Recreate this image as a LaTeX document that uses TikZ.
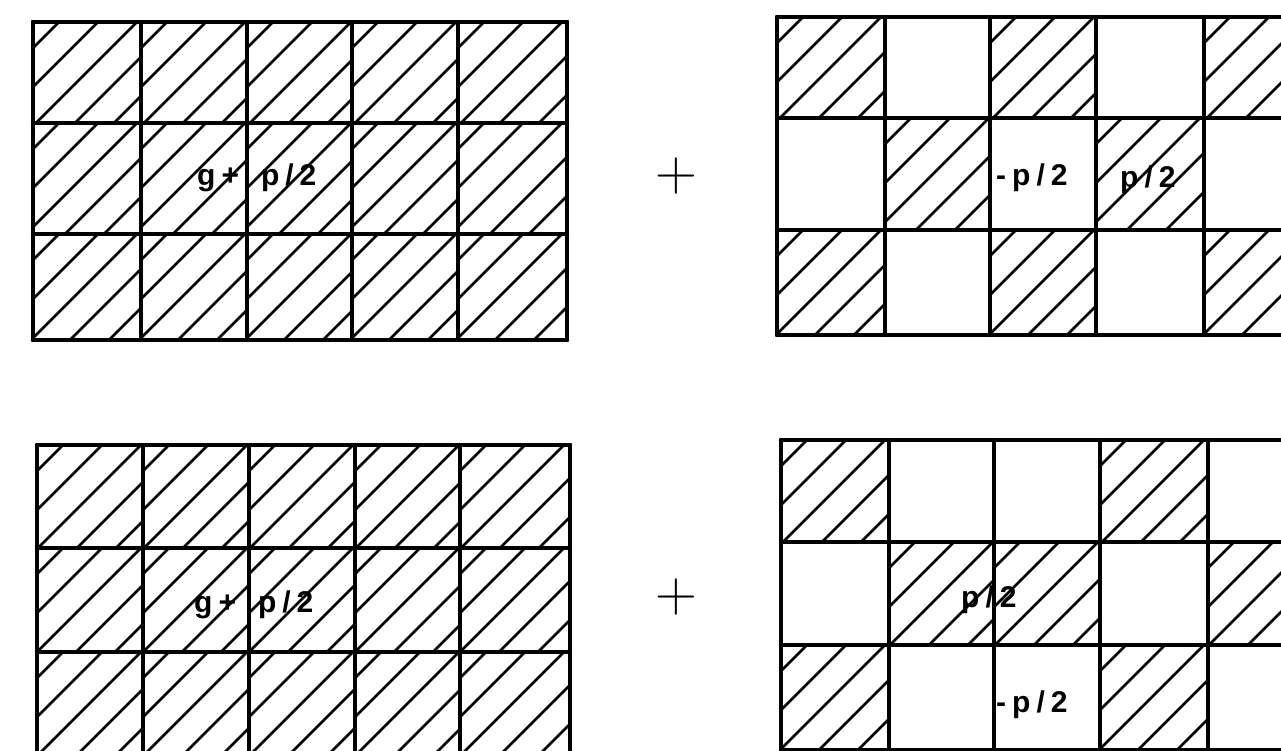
\documentclass[tikz,border=0pt]{standalone}
\usepackage{fontspec}
\newfontfamily\lblfont[LetterSpace=20]{Liberation Sans Bold}
\tikzset{
  gridline/.style={line width=4.4pt, line cap=round, line join=round},
  hatchline/.style={line width=2.6pt},
  lbl/.style={font=\lblfont\fontsize{30}{30}\selectfont, inner sep=0pt, anchor=base west},
  widelbl/.style={lbl, execute at begin node={\spaceskip=22pt}},
  plussign/.style={font=\fontsize{58}{58}\selectfont, inner sep=0pt}
}
\newcommand\hcell[4]{%
  \begin{scope}
    \clip (#1,#2) rectangle (#3,#4);
    \foreach \d in {26,65,104,143,182,221}
      \draw[hatchline] (#1+\d-300,#2+300) -- (#1+\d+300,#2-300);
  \end{scope}}
\begin{document}
\begin{tikzpicture}[x=1pt,y=-1pt]
\useasboundingbox (0,0) rectangle (1281,751);
\clip (0,0) rectangle (1281,751);
\fill[white] (0,0) rectangle (1281,751);

% ---------- top-left grid: all hatched ----------
\foreach \xa/\xb in {33/141,141/247,247/352,352/458,458/567}
  \foreach \ya/\yb in {22/123,123/234,234/340}
    \hcell{\xa}{\ya}{\xb}{\yb};
\foreach \x in {33,141,247,352,458,567} \draw[gridline] (\x,22) -- (\x,340);
\foreach \y in {22,123,234,340} \draw[gridline] (33,\y) -- (567,\y);

% ---------- top-right grid: checkerboard ----------
\foreach \xa/\xb/\ya/\yb in {777/885/17/118, 990/1096/17/118, 1204/1320/17/118,
                             885/990/118/230, 1096/1204/118/230,
                             777/885/230/335, 990/1096/230/335, 1204/1320/230/335}
  \hcell{\xa}{\ya}{\xb}{\yb};
\foreach \x in {777,885,990,1096,1204} \draw[gridline] (\x,17) -- (\x,335);
\foreach \y in {17,118,230,335} \draw[gridline] (777,\y) -- (1330,\y);

% ---------- bottom-left grid: all hatched ----------
\foreach \xa/\xb in {37/143,143/249,249/355,355/460,460/570}
  \foreach \ya/\yb in {445/548,548/652,652/757}
    \hcell{\xa}{\ya}{\xb}{\yb};
\foreach \x in {37,143,249,355,460,570} \draw[gridline] (\x,445) -- (\x,770);
\foreach \y in {445,548,652} \draw[gridline] (37,\y) -- (570,\y);

% ---------- bottom-right grid ----------
\foreach \xa/\xb/\ya/\yb in {781/889/440/542, 1100/1208/440/542,
                             889/994/542/645, 994/1100/542/645, 1208/1320/542/645,
                             781/889/645/750, 1100/1208/645/750}
  \hcell{\xa}{\ya}{\xb}{\yb};
\foreach \x in {781,889,994,1100,1208} \draw[gridline] (\x,440) -- (\x,770);
\foreach \y in {440,542,645,750} \draw[gridline] (781,\y) -- (1330,\y);

% ---------- plus signs ----------
\node[plussign] (plusA) at (676,176) {+};
\node[plussign] (plusB) at (676,597) {+};

% ---------- labels ----------
\node[widelbl] (lblTL) at (197,186) {g+ p/2};
\node[widelbl] (lblBL) at (194,612) {g+ p/2};
\node[lbl] (lblTRa) at (996,186) {-p/2};
\node[lbl] (lblTRb) at (1120,188) {p/2};
\node[lbl] (lblBRa) at (961,607) {p/2};
\node[lbl] (lblBRb) at (996,712) {-p/2};
\end{tikzpicture}
\end{document}
